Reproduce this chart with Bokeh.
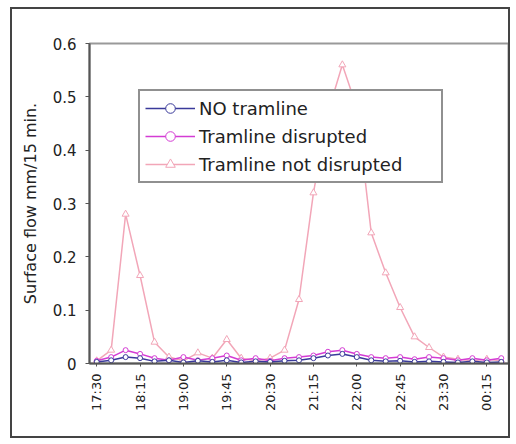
from bokeh.plotting import figure
from bokeh.models import FixedTicker, Legend, LegendItem, Range1d
from bokeh.embed import file_html
from bokeh.resources import INLINE
import math

times = ["17:30", "17:45", "18:00", "18:15", "18:30", "18:45", "19:00", "19:15", "19:30", "19:45",
         "20:00", "20:15", "20:30", "20:45", "21:00", "21:15", "21:30", "21:45", "22:00", "22:15",
         "22:30", "22:45", "23:00", "23:15", "23:30", "23:45", "00:00", "00:15", "00:30"]

no_tramline = [0.003, 0.006, 0.012, 0.010, 0.004, 0.006, 0.002, 0.005, 0.003, 0.006,
               0.002, 0.004, 0.003, 0.005, 0.006, 0.010, 0.015, 0.018, 0.012, 0.006,
               0.004, 0.005, 0.003, 0.004, 0.003, 0.002, 0.004, 0.002, 0.003]
tramline_disrupted = [0.005, 0.012, 0.025, 0.018, 0.010, 0.006, 0.012, 0.006, 0.010, 0.015,
                      0.006, 0.010, 0.005, 0.010, 0.012, 0.015, 0.022, 0.025, 0.018, 0.012,
                      0.010, 0.012, 0.008, 0.012, 0.010, 0.006, 0.010, 0.006, 0.010]
tramline_not_disrupted = [0.005, 0.025, 0.28, 0.165, 0.04, 0.012, 0.005, 0.02, 0.01, 0.045,
                          0.01, 0.005, 0.01, 0.025, 0.12, 0.32, 0.47, 0.56, 0.48, 0.245,
                          0.17, 0.105, 0.05, 0.03, 0.012, 0.008, 0.005, 0.008, 0.005]

y_ticks = [0, 0.1, 0.2, 0.3, 0.4, 0.5, 0.6]
y_labels = ["0", "0.1", "0.2", "0.3", "0.4", "0.5", "0.6"]

x = list(range(len(times)))

FONT = "DejaVu Sans"

p = figure(width=500, height=431, output_backend="svg", toolbar_location=None,
           x_range=Range1d(-0.5, len(times) - 0.5), y_range=Range1d(0, 0.6),
           min_border_left=77, min_border_top=34, min_border_right=4, min_border_bottom=77)
p.styles = {"border": "2px solid #444", "margin-left": "10px", "margin-top": "7px"}
p.background_fill_color = "white"
p.border_fill_color = "white"
p.outline_line_color = "#999999"
p.outline_line_width = 2
p.xgrid.visible = False
p.ygrid.visible = False

# y axis
p.yaxis.ticker = FixedTicker(ticks=y_ticks)
p.yaxis.major_label_overrides = {t: l for t, l in zip(y_ticks, y_labels)}
p.yaxis.axis_line_color = "#555555"
p.yaxis.axis_line_width = 2
p.yaxis.major_tick_in = 0
p.yaxis.major_tick_out = 4
p.yaxis.major_tick_line_color = "#555555"
p.yaxis.minor_tick_line_color = None
p.yaxis.major_label_text_font = FONT
p.yaxis.major_label_text_font_size = "15px"
p.yaxis.major_label_text_color = "#222222"
p.yaxis.major_label_standoff = 9
p.yaxis.axis_label = "Surface flow mm/15 min."
p.yaxis.axis_label_text_font = FONT
p.yaxis.axis_label_text_font_size = "16px"
p.yaxis.axis_label_text_font_style = "normal"
p.yaxis.axis_label_text_color = "#222222"
p.yaxis.axis_label_standoff = 10

# x axis
tick_idx = list(range(0, len(times), 3))
p.xaxis.ticker = FixedTicker(ticks=tick_idx)
p.xaxis.major_label_overrides = {i: times[i] for i in tick_idx}
p.xaxis.major_label_orientation = math.pi / 2
p.xaxis.axis_line_color = "#555555"
p.xaxis.axis_line_width = 2
p.xaxis.major_tick_in = 0
p.xaxis.major_tick_out = 3
p.xaxis.major_tick_line_color = "#555555"
p.xaxis.minor_tick_line_color = None
p.xaxis.major_label_text_font = FONT
p.xaxis.major_label_text_font_size = "13px"
p.xaxis.major_label_text_color = "#222222"
p.xaxis.major_label_standoff = 7

c_not = "#f2a6b8"
c_dis = "#d43cd4"
c_no = "#3a3a9a"

l3 = p.line(x, tramline_not_disrupted, line_color=c_not, line_width=1.5)
m3 = p.scatter(x, tramline_not_disrupted, marker="triangle", size=7, line_color=c_not,
               fill_color="white", line_width=1)
l2 = p.line(x, tramline_disrupted, line_color=c_dis, line_width=1.5)
m2 = p.scatter(x, tramline_disrupted, marker="circle", size=5, line_color=c_dis,
               fill_color="white", line_width=1)
l1 = p.line(x, no_tramline, line_color=c_no, line_width=1.5)
m1 = p.scatter(x, no_tramline, marker="circle", size=5, line_color=c_no,
               fill_color="white", line_width=1)

legend = Legend(items=[
    LegendItem(label="NO tramline", renderers=[l1, m1]),
    LegendItem(label="Tramline disrupted", renderers=[l2, m2]),
    LegendItem(label="Tramline not disrupted", renderers=[l3, m3]),
], location=(49, 180))
legend.border_line_color = "#222222"
legend.border_line_width = 2
legend.background_fill_color = "white"
legend.background_fill_alpha = 1
legend.label_text_font = FONT
legend.label_text_font_size = "18px"
legend.label_text_color = "#222222"
legend.glyph_width = 50
legend.label_standoff = 4
legend.label_width = 237
legend.label_height = 24
legend.glyph_height = 24
legend.spacing = 4
legend.padding = 5
legend.margin = 0
p.add_layout(legend, "center")

open("out.html", "w").write(file_html(p, INLINE))
